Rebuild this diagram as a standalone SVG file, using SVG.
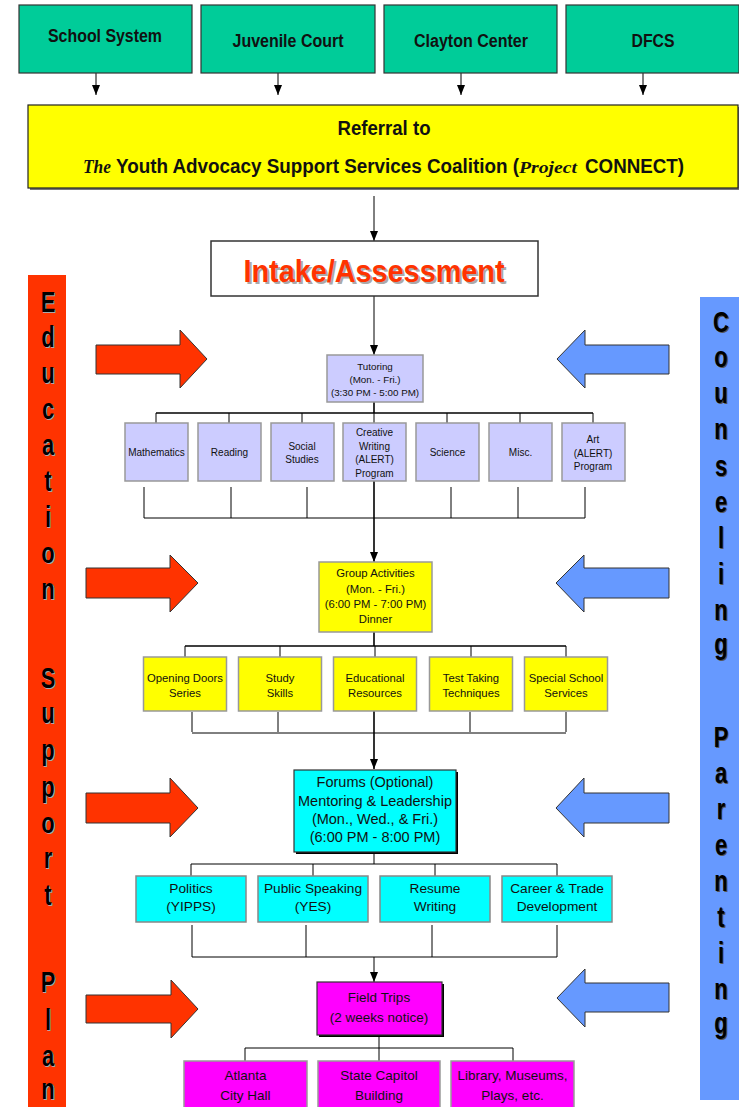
<svg xmlns="http://www.w3.org/2000/svg" width="739" height="1107" viewBox="0 0 739 1107">
<defs>
<marker id="ah" markerUnits="userSpaceOnUse" markerWidth="10" markerHeight="10" viewBox="0 0 10 10" refX="10" refY="5" orient="auto">
<path d="M0,1 L10,5 L0,9 Z" fill="#000"/>
</marker>
<style>
.t{font-family:"Liberation Sans",Arial,sans-serif;fill:#111;text-anchor:middle}
.b{font-weight:bold}
.s{text-anchor:start}
.sc{font-family:"Liberation Serif","Times New Roman",serif;font-style:italic;font-weight:bold}
.src{fill:#00CC99;stroke:#333;stroke-width:1.2}
.ln{stroke:#000;stroke-width:1;fill:none}
.bus{stroke:#000;stroke-width:1.6;fill:none}
.lav{fill:#CCCCFF;stroke:#999;stroke-width:1.5}
.yel{fill:#FFFF00;stroke:#999;stroke-width:1.5}
.cy{fill:#00FFFF;stroke:#888;stroke-width:1.5}
.mag{fill:#FF00FF;stroke:#999;stroke-width:1.5}
.shd{fill:#000}
.ra{fill:#FF3300;stroke:#333;stroke-width:1}
.ba{fill:#6699FF;stroke:#333;stroke-width:1}
.vl{font-family:"Liberation Sans",Arial,sans-serif;font-weight:bold;font-size:30px;text-anchor:middle}
</style>
</defs>
<rect width="739" height="1107" fill="#fff"/>

<!-- side bars -->
<g id="education-bar">
<rect x="28" y="275" width="38" height="835" fill="#FF3300"/>
<g transform="translate(48,0) scale(0.73,1)">
<g fill="#aaa" transform="translate(1.5,1.5)">
<text class="vl" x="0" y="312">E</text><text class="vl" x="0" y="347">d</text><text class="vl" x="0" y="383">u</text><text class="vl" x="0" y="419">c</text><text class="vl" x="0" y="455">a</text><text class="vl" x="0" y="491">t</text><text class="vl" x="0" y="527">i</text><text class="vl" x="0" y="563">o</text><text class="vl" x="0" y="599">n</text>
<text class="vl" x="0" y="688">S</text><text class="vl" x="0" y="723">u</text><text class="vl" x="0" y="760">p</text><text class="vl" x="0" y="797">p</text><text class="vl" x="0" y="833">o</text><text class="vl" x="0" y="868">r</text><text class="vl" x="0" y="905">t</text>
<text class="vl" x="0" y="992">P</text><text class="vl" x="0" y="1030">l</text><text class="vl" x="0" y="1066">a</text><text class="vl" x="0" y="1099">n</text>
</g>
<g fill="#000">
<text class="vl" x="0" y="312">E</text><text class="vl" x="0" y="347">d</text><text class="vl" x="0" y="383">u</text><text class="vl" x="0" y="419">c</text><text class="vl" x="0" y="455">a</text><text class="vl" x="0" y="491">t</text><text class="vl" x="0" y="527">i</text><text class="vl" x="0" y="563">o</text><text class="vl" x="0" y="599">n</text>
<text class="vl" x="0" y="688">S</text><text class="vl" x="0" y="723">u</text><text class="vl" x="0" y="760">p</text><text class="vl" x="0" y="797">p</text><text class="vl" x="0" y="833">o</text><text class="vl" x="0" y="868">r</text><text class="vl" x="0" y="905">t</text>
<text class="vl" x="0" y="992">P</text><text class="vl" x="0" y="1030">l</text><text class="vl" x="0" y="1066">a</text><text class="vl" x="0" y="1099">n</text>
</g>
</g>
</g>

<g id="counseling-bar">
<rect x="700" y="297" width="39" height="803" fill="#6699FF"/>
<g transform="translate(721,0) scale(0.73,1)">
<g fill="#555" transform="translate(1.5,1.5)">
<text class="vl" x="0" y="332">C</text><text class="vl" x="0" y="367">o</text><text class="vl" x="0" y="403">u</text><text class="vl" x="0" y="439">n</text><text class="vl" x="0" y="476">s</text><text class="vl" x="0" y="512">e</text><text class="vl" x="0" y="548">l</text><text class="vl" x="0" y="584">i</text><text class="vl" x="0" y="620">n</text><text class="vl" x="0" y="654">g</text>
<text class="vl" x="0" y="747">P</text><text class="vl" x="0" y="783">a</text><text class="vl" x="0" y="819">r</text><text class="vl" x="0" y="855">e</text><text class="vl" x="0" y="891">n</text><text class="vl" x="0" y="927">t</text><text class="vl" x="0" y="963">i</text><text class="vl" x="0" y="999">n</text><text class="vl" x="0" y="1033">g</text>
</g>
<g fill="#000">
<text class="vl" x="0" y="332">C</text><text class="vl" x="0" y="367">o</text><text class="vl" x="0" y="403">u</text><text class="vl" x="0" y="439">n</text><text class="vl" x="0" y="476">s</text><text class="vl" x="0" y="512">e</text><text class="vl" x="0" y="548">l</text><text class="vl" x="0" y="584">i</text><text class="vl" x="0" y="620">n</text><text class="vl" x="0" y="654">g</text>
<text class="vl" x="0" y="747">P</text><text class="vl" x="0" y="783">a</text><text class="vl" x="0" y="819">r</text><text class="vl" x="0" y="855">e</text><text class="vl" x="0" y="891">n</text><text class="vl" x="0" y="927">t</text><text class="vl" x="0" y="963">i</text><text class="vl" x="0" y="999">n</text><text class="vl" x="0" y="1033">g</text>
</g>
</g>
</g>

<!-- block arrows -->
<g id="block-arrows">
<path class="ra" d="M96,345 H180 V330 L207,359 L180,388 V374 H96 Z"/>
<path class="ra" d="M86,568 H170 V555 L198,583 L170,612 V598 H86 Z"/>
<path class="ra" d="M86,793 H170 V778 L198,808 L170,837 V823 H86 Z"/>
<path class="ra" d="M86,995 H171 V980 L198,1009 L171,1038 V1023 H86 Z"/>
<path class="ba" d="M669,345 H585 V330 L557,359 L585,388 V374 H669 Z"/>
<path class="ba" d="M669,568 H584 V555 L556,583 L584,612 V598 H669 Z"/>
<path class="ba" d="M669,793 H584 V778 L556,808 L584,837 V823 H669 Z"/>
<path class="ba" d="M669,983 H585 V969 L557,998 L585,1027 V1012 H669 Z"/>
</g>

<!-- connectors -->
<g id="connectors">
<line class="ln" x1="96" y1="73" x2="96" y2="95" marker-end="url(#ah)"/>
<line class="ln" x1="278" y1="73" x2="278" y2="95" marker-end="url(#ah)"/>
<line class="ln" x1="461" y1="73" x2="461" y2="95" marker-end="url(#ah)"/>
<line class="ln" x1="643" y1="73" x2="643" y2="95" marker-end="url(#ah)"/>
<line class="ln" x1="374" y1="196" x2="374" y2="241" marker-end="url(#ah)"/>
<line class="ln" x1="374" y1="296" x2="374" y2="355" marker-end="url(#ah)"/>
<!-- tutoring bus -->
<line class="bus" x1="374" y1="402" x2="374" y2="413"/>
<line class="bus" x1="156" y1="413" x2="593" y2="413"/>
<path class="ln" d="M156,413V423 M229,413V423 M302,413V423 M374,413V423 M447,413V423 M520,413V423 M593,413V423"/>
<path class="ln" stroke="#333" d="M144,487V518 M231,487V518 M307,487V518 M451,487V518 M518,487V518 M585,487V518"/>
<line class="bus" x1="374" y1="481" x2="374" y2="518"/>
<line class="ln" x1="144" y1="518" x2="585" y2="518"/>
<line class="bus" x1="374" y1="518" x2="374" y2="562" marker-end="url(#ah)"/>
<!-- group bus -->
<line class="bus" x1="374" y1="632" x2="374" y2="646"/>
<line class="bus" x1="185" y1="646" x2="566" y2="646"/>
<path class="ln" d="M185,646V657 M280,646V657 M375,646V657 M471,646V657 M566,646V657"/>
<path class="ln" stroke="#333" d="M192,712V732 M278,712V732 M470,712V732 M566,712V732"/>
<line class="bus" x1="374" y1="711" x2="374" y2="733"/>
<line class="ln" x1="192" y1="733" x2="566" y2="733"/>
<line class="bus" x1="374" y1="733" x2="374" y2="769" marker-end="url(#ah)"/>
<!-- forums bus -->
<line class="ln" x1="374" y1="852" x2="374" y2="864"/>
<line class="ln" x1="191" y1="864" x2="557" y2="864"/>
<path class="ln" stroke="#555" d="M191,864V876 M313,864V876 M435,864V876 M557,864V876"/>
<path class="ln" d="M192,925V957 M306,925V957 M432,925V957 M557,925V957"/>
<line class="ln" x1="192" y1="957" x2="557" y2="957"/>
<line class="ln" x1="374" y1="957" x2="374" y2="982" marker-end="url(#ah)"/>
<!-- field trips bus -->
<line class="ln" stroke="#444" x1="379" y1="1035" x2="379" y2="1048"/>
<line class="ln" stroke="#444" x1="245" y1="1048" x2="513" y2="1048"/>
<path class="ln" stroke="#444" d="M245,1048V1061 M379,1048V1061 M513,1048V1061"/>
</g>

<!-- source nodes -->
<g id="school-system"><rect class="src" x="19" y="5" width="173" height="68"/><text class="t b" x="105" y="42" font-size="18" textLength="114" lengthAdjust="spacingAndGlyphs">School System</text></g>
<g id="juvenile-court"><rect class="src" x="201" y="5" width="174" height="68"/><text class="t b" x="288" y="47" font-size="18" textLength="111" lengthAdjust="spacingAndGlyphs">Juvenile Court</text></g>
<g id="clayton-center"><rect class="src" x="384" y="5" width="173" height="68"/><text class="t b" x="471" y="47" font-size="18" textLength="114" lengthAdjust="spacingAndGlyphs">Clayton Center</text></g>
<g id="dfcs"><rect class="src" x="566" y="5" width="173" height="68"/><text class="t b" x="653" y="47" font-size="18" textLength="43" lengthAdjust="spacingAndGlyphs">DFCS</text></g>

<g id="referral">
<rect x="30" y="107" width="710" height="83" fill="#777"/>
<rect x="28" y="105" width="710" height="83" fill="#FFFF00" stroke="#222" stroke-width="1.2"/>
<text class="t b" x="384" y="135" font-size="20" textLength="93" lengthAdjust="spacingAndGlyphs">Referral to</text>
<text class="t sc s" x="83" y="173" font-size="19" textLength="28" lengthAdjust="spacingAndGlyphs">The</text>
<text class="t b s" x="116" y="173" font-size="20" textLength="403" lengthAdjust="spacingAndGlyphs">Youth Advocacy Support Services Coalition (</text>
<text class="t sc s" x="519" y="173" font-size="17" textLength="58" lengthAdjust="spacingAndGlyphs">Project</text>
<text class="t b s" x="585" y="173" font-size="20" textLength="99" lengthAdjust="spacingAndGlyphs">CONNECT)</text>
</g>

<g id="intake">
<rect x="211" y="241" width="327" height="55" fill="#fff" stroke="#333" stroke-width="1.5"/>
<text class="t b" x="376" y="284" font-size="31" style="fill:#aaa" textLength="261" lengthAdjust="spacingAndGlyphs">Intake/Assessment</text>
<text class="t b" x="374" y="282" font-size="31" style="fill:#FF3300" textLength="261" lengthAdjust="spacingAndGlyphs">Intake/Assessment</text>
</g>

<g id="tutoring">
<rect class="lav" x="327" y="355" width="96" height="47"/>
<text class="t" font-size="9.8" x="375" y="370">Tutoring</text>
<text class="t" font-size="9.8" x="375" y="383">(Mon. - Fri.)</text>
<text class="t" font-size="9.8" x="375" y="396">(3:30 PM - 5:00 PM)</text>
</g>
<g id="mathematics"><rect class="lav" x="125" y="423" width="63" height="58"/><text class="t" font-size="10" x="156.5" y="456">Mathematics</text></g>
<g id="reading"><rect class="lav" x="198" y="423" width="63" height="58"/><text class="t" font-size="10" x="229.5" y="456">Reading</text></g>
<g id="social-studies"><rect class="lav" x="271" y="423" width="63" height="58"/><text class="t" font-size="10" x="302" y="450">Social</text><text class="t" font-size="10" x="302" y="463">Studies</text></g>
<g id="creative-writing"><rect class="lav" x="343" y="423" width="63" height="58"/><text class="t" font-size="10" x="374.5" y="436">Creative</text><text class="t" font-size="10" x="374.5" y="450">Writing</text><text class="t" font-size="10" x="374.5" y="463">(ALERT)</text><text class="t" font-size="10" x="374.5" y="477">Program</text></g>
<g id="science"><rect class="lav" x="416" y="423" width="63" height="58"/><text class="t" font-size="10" x="447.5" y="456">Science</text></g>
<g id="misc"><rect class="lav" x="489" y="423" width="63" height="58"/><text class="t" font-size="10" x="520.5" y="456">Misc.</text></g>
<g id="art"><rect class="lav" x="562" y="423" width="63" height="58"/><text class="t" font-size="10" x="593" y="443">Art</text><text class="t" font-size="10" x="593" y="457">(ALERT)</text><text class="t" font-size="10" x="593" y="470">Program</text></g>

<g id="group-activities">
<rect class="yel" x="319" y="562" width="113" height="70"/>
<text class="t" font-size="11.3" x="375.5" y="577">Group Activities</text>
<text class="t" font-size="11.3" x="375.5" y="593">(Mon. - Fri.)</text>
<text class="t" font-size="11.3" x="375.5" y="608">(6:00 PM - 7:00 PM)</text>
<text class="t" font-size="11.3" x="375.5" y="623">Dinner</text>
</g>
<g id="opening-doors"><rect class="yel" x="143.5" y="657" width="83" height="54"/><text class="t" font-size="11.3" x="185" y="682">Opening Doors</text><text class="t" font-size="11.3" x="185" y="697">Series</text></g>
<g id="study-skills"><rect class="yel" x="238.5" y="657" width="83" height="54"/><text class="t" font-size="11.3" x="280" y="682">Study</text><text class="t" font-size="11.3" x="280" y="697">Skills</text></g>
<g id="educational-resources"><rect class="yel" x="333.5" y="657" width="83" height="54"/><text class="t" font-size="11.3" x="375" y="682">Educational</text><text class="t" font-size="11.3" x="375" y="697">Resources</text></g>
<g id="test-taking"><rect class="yel" x="429.5" y="657" width="83" height="54"/><text class="t" font-size="11.3" x="471" y="682">Test Taking</text><text class="t" font-size="11.3" x="471" y="697">Techniques</text></g>
<g id="special-school"><rect class="yel" x="524.5" y="657" width="83" height="54"/><text class="t" font-size="11.3" x="566" y="682">Special School</text><text class="t" font-size="11.3" x="566" y="697">Services</text></g>

<g id="forums">
<rect class="shd" x="296" y="772" width="162" height="82"/>
<rect x="294" y="770" width="162" height="82" fill="#00FFFF" stroke="#333" stroke-width="1.2"/>
<text class="t" font-size="14.5" x="375" y="787">Forums (Optional)</text>
<text class="t" font-size="14.5" x="375" y="806">Mentoring &amp; Leadership</text>
<text class="t" font-size="14.5" x="375" y="824">(Mon., Wed., &amp; Fri.)</text>
<text class="t" font-size="14.5" x="375" y="842">(6:00 PM - 8:00 PM)</text>
</g>
<g id="politics"><rect class="cy" x="136" y="876" width="110" height="46"/><text class="t" font-size="13.7" x="191" y="893">Politics</text><text class="t" font-size="13.7" x="191" y="911">(YIPPS)</text></g>
<g id="public-speaking"><rect class="cy" x="258" y="876" width="110" height="46"/><text class="t" font-size="13.7" x="313" y="893">Public Speaking</text><text class="t" font-size="13.7" x="313" y="911">(YES)</text></g>
<g id="resume-writing"><rect class="cy" x="380" y="876" width="110" height="46"/><text class="t" font-size="13.7" x="435" y="893">Resume</text><text class="t" font-size="13.7" x="435" y="911">Writing</text></g>
<g id="career-trade"><rect class="cy" x="502" y="876" width="110" height="46"/><text class="t" font-size="13.7" x="557" y="893">Career &amp; Trade</text><text class="t" font-size="13.7" x="557" y="911">Development</text></g>

<g id="field-trips">
<rect class="shd" x="319" y="984" width="125" height="53"/>
<rect x="317" y="982" width="125" height="53" fill="#FF00FF" stroke="#333" stroke-width="1.2"/>
<text class="t" font-size="13.5" x="379" y="1002">Field Trips</text>
<text class="t" font-size="13.5" x="379" y="1022">(2 weeks notice)</text>
</g>
<g id="atlanta-city-hall"><rect class="mag" x="184" y="1061" width="123" height="52"/><text class="t" font-size="13.5" x="245.5" y="1080">Atlanta</text><text class="t" font-size="13.5" x="245.5" y="1100">City Hall</text></g>
<g id="state-capitol"><rect class="mag" x="318" y="1061" width="122" height="52"/><text class="t" font-size="13.5" x="379" y="1080">State Capitol</text><text class="t" font-size="13.5" x="379" y="1100">Building</text></g>
<g id="library-museums"><rect class="mag" x="451" y="1061" width="123" height="52"/><text class="t" font-size="13.5" x="512.5" y="1080">Library, Museums,</text><text class="t" font-size="13.5" x="512.5" y="1100">Plays, etc.</text></g>
</svg>
